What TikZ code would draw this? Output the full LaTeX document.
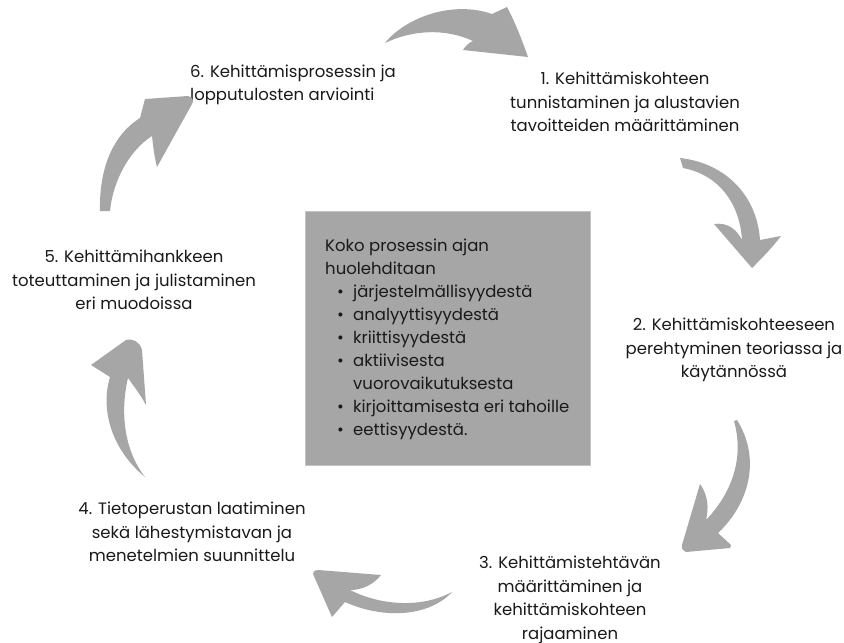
\documentclass[tikz,border=0pt]{standalone}
\usepackage{fontspec}
\setmainfont{Poppins}
\begin{document}
\begin{tikzpicture}[x=1pt,y=-1pt,
  lbl/.style={align=center,inner sep=0pt,text=txt,font=\fontsize{16.5}{23.5}\selectfont},
  arr/.style={fill=arrgray,draw=none}]
\definecolor{arrgray}{HTML}{A6A6A6}
\definecolor{boxgray}{HTML}{A6A6A6}
\definecolor{boxedge}{HTML}{C4C4C4}
\definecolor{txt}{HTML}{1A1A1A}
\useasboundingbox[fill=white] (0,0) rectangle (844,643);
% central box
\node[draw=boxedge,fill=boxgray,line width=0.8pt,minimum width=285pt,minimum height=254pt,inner sep=0pt] (box) at (447.5,338) {};
\node[lbl,align=left,anchor=west,font=\fontsize{16.5}{23}\selectfont] (inner) at (325,339.5) {%
Koko prosessin ajan\\
huolehditaan\\
\hspace*{12pt}\makebox[16pt][l]{•}järjestelmällisyydestä\\
\hspace*{12pt}\makebox[16pt][l]{•}analyyttisyydestä\\
\hspace*{12pt}\makebox[16pt][l]{•}kriittisyydestä\\
\hspace*{12pt}\makebox[16pt][l]{•}aktiivisesta\\
\hspace*{28pt}vuorovaikutuksesta\\
\hspace*{12pt}\makebox[16pt][l]{•}kirjoittamisesta eri tahoille\\
\hspace*{12pt}\makebox[16pt][l]{•}eettisyydestä.};
% labels
\node[lbl] (s1) at (625,102) {1. Kehittämiskohteen\\tunnistaminen ja alustavien\\tavoitteiden määrittäminen};
\node[lbl] (s2) at (734,350) {2. Kehittämiskohteeseen\\perehtyminen teoriassa ja\\käytännössä};
\node[lbl] (s3) at (570,600) {3. Kehittämistehtävän\\määrittäminen ja\\kehittämiskohteen\\rajaaminen};
\node[lbl] (s4) at (192,532) {4. Tietoperustan laatiminen\\sekä lähestymistavan ja\\menetelmien suunnittelu};
\node[lbl] (s5) at (134,280) {5. Kehittämihankkeen\\toteuttaminen ja julistaminen\\eri muodoissa};
\node[lbl,align=left,anchor=west] (s6) at (190,85) {6. Kehittämisprosessin ja\\lopputulosten arviointi};
% arrows
% top
\fill[arr] (385,43) .. controls (405,18) and (452,0) .. (492,14) -- (507,7) .. controls (515,22) and (522,40) .. (528,57) -- (463,50) .. controls (466,45) and (469,43) .. (473,41) .. controls (445,28) and (412,30) .. (385,43) -- cycle;
% right upper
\fill[arr] (680,158) .. controls (725,163) and (757,195) .. (760,240) -- (781,236) .. controls (772,248) and (762,258) .. (752,268) -- (714,224) .. controls (728,222) and (737,230) .. (742,240) .. controls (740,205) and (720,175) .. (683,168) -- cycle;
% right lower
\fill[arr] (737,420) .. controls (762,460) and (748,505) .. (718,533) -- (731,545) -- (730,548) -- (686,552) .. controls (682,550) and (681,547) .. (682,545) -- (700,484) .. controls (708,495) and (709,508) .. (706,520) .. controls (730,495) and (745,460) .. (734,421) -- cycle;
% bottom
\fill[arr] (452,592) .. controls (430,616) and (385,620) .. (345,602) -- (332,617) -- (313,574) .. controls (313,571) and (315,570) .. (318,570) -- (381,575) .. controls (373,585) and (362,590) .. (350,590) .. controls (382,606) and (422,608) .. (452,592) -- cycle;
% left lower
\fill[arr] (145,477) .. controls (112,450) and (100,410) .. (110,377) -- (91,365) -- (126,340) .. controls (133,338) and (140,342) .. (142,350) -- (146,405) .. controls (140,394) and (133,385) .. (128,378) .. controls (120,412) and (124,450) .. (145,477) -- cycle;
% left upper
\fill[arr] (100,211) .. controls (99,168) and (113,135) .. (140,118) -- (145,99) -- (188,96) .. controls (193,97) and (194,101) .. (192,104) -- (157,167) .. controls (154,155) and (153,145) .. (152,136) .. controls (130,150) and (113,180) .. (110,211) -- cycle;
\end{tikzpicture}
\end{document}
